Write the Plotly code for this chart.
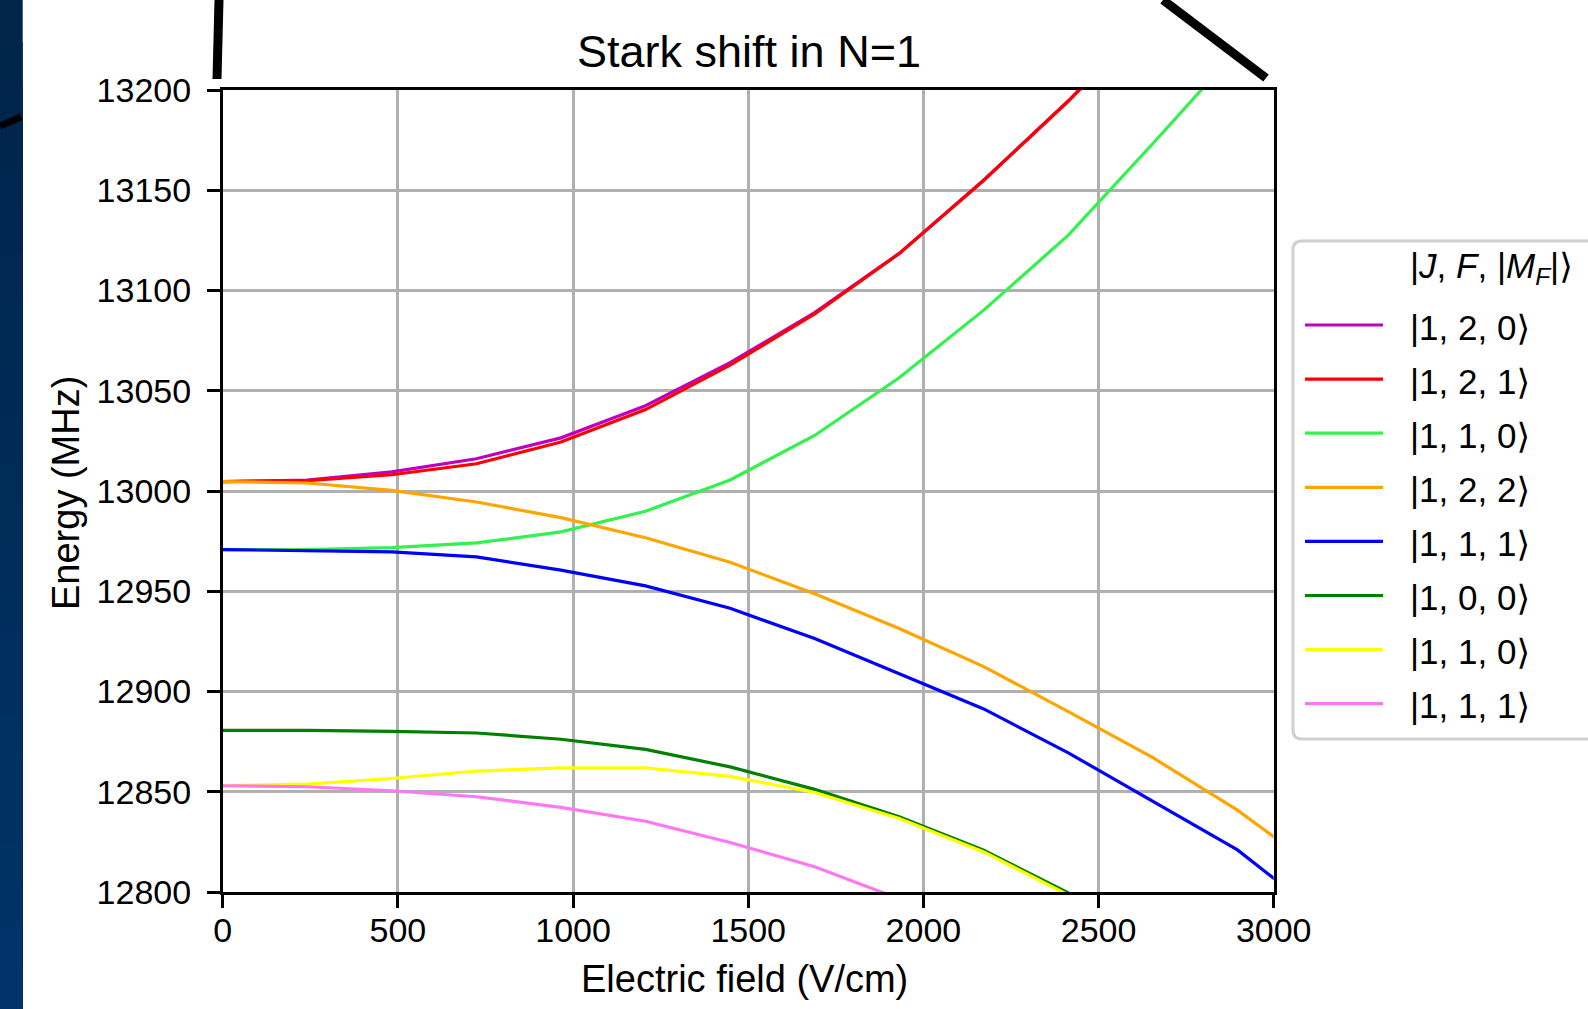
import plotly.graph_objects as go

# Figure size in pixels
W, H = 1588, 1009

# Electric field grid (V/cm)
field = [0, 241.4, 482.8, 724.1, 965.5, 1206.9, 1448.3, 1689.7,
         1931.0, 2172.4, 2413.8, 2655.2, 2896.6, 3137.9]

# Level energies (MHz) along the field grid, labelled |J, F, |M_F|>
e_120 = [13004.7, 13005.4, 13009.5, 13016.1, 13026.5, 13042.5, 13064.0,
         13089.0, 13118.5, 13155.0, 13194.5, 13238.0]
e_121 = [13004.7, 13005.2, 13008.1, 13013.6, 13024.4, 13040.6, 13062.8,
         13088.3, 13118.4, 13155.0, 13194.5, 13237.0]
e_110_up = [12970.8, 12970.8, 12971.8, 12974.1, 12979.6, 12989.9, 13005.5,
            13027.7, 13056.5, 13090.2, 13127.6, 13173.3, 13220.0]
e_122 = [13004.7, 13004.0, 13000.3, 12994.5, 12986.7, 12976.7, 12964.5,
         12948.7, 12931.4, 12912.4, 12890.0, 12867.0, 12840.8, 12810.0]
e_111_up = [12970.8, 12970.4, 12969.6, 12967.1, 12960.5, 12952.7, 12941.5,
            12926.4, 12909.0, 12891.3, 12869.4, 12845.3, 12821.0, 12788.0]
e_100 = [12880.6, 12880.6, 12880.1, 12879.3, 12876.2, 12871.1, 12862.4,
         12851.2, 12837.5, 12820.8, 12799.5, 12776.0]
e_110_low = [12853.0, 12853.8, 12856.6, 12860.3, 12861.9, 12861.9, 12857.7,
             12849.6, 12836.7, 12820.0, 12798.5, 12775.0]
e_111_low = [12853.0, 12852.5, 12850.5, 12847.5, 12842.2, 12835.3, 12824.7,
             12812.6, 12796.6]

labels = ["|1, 2, 0⟩", "|1, 2, 1⟩", "|1, 1, 0⟩", "|1, 2, 2⟩",
          "|1, 1, 1⟩", "|1, 0, 0⟩", "|1, 1, 0⟩", "|1, 1, 1⟩"]
legend_title = "|<i>J</i>, <i>F</i>, |<i>M</i><sub><i>F</i></sub>|⟩"
levels = [e_120, e_121, e_110_up, e_122, e_111_up, e_100, e_110_low, e_111_low]
colors = ["#bf00bf", "#ff0000", "#33f24d", "#ffa500",
          "#0000ff", "#008000", "#ffff00", "#ff77f2"]

x_ticks = [0, 500, 1000, 1500, 2000, 2500, 3000]
y_ticks = [12800, 12850, 12900, 12950, 13000, 13050, 13100, 13150, 13200]

FONT = "Liberation Sans, Arial, DejaVu Sans, sans-serif"

# Plot-area edges in pixels
ax_left, ax_right, ax_top, ax_bottom = 222.7, 1273.7, 90.0, 892.0


def px(x):
    return x / W


def py(y):
    return 1 - y / H


fig = go.Figure()
for name, vals, col in zip(labels, levels, colors):
    fig.add_trace(go.Scatter(
        x=field[:len(vals)], y=vals, mode="lines", name=name,
        showlegend=False,
        line=dict(color=col, width=3.2),
    ))

axis_common = dict(
    ticks="outside", ticklen=13, tickwidth=2.5, tickcolor="black",
    showline=True, linecolor="black", linewidth=2.5, mirror=True,
    showgrid=True, gridcolor="#b0b0b0", gridwidth=2.5, zeroline=False,
    automargin=False, tickformat="d",
    tickfont=dict(family=FONT, size=34, color="black"),
)

shapes = []

# Dark strip down the left edge; each band runs to the bottom so no seams show
n_bands = 24
top_rgb, bot_rgb = (0, 36, 74), (0, 52, 104)
for k in range(n_bands):
    t = k / (n_bands - 1)
    c = tuple(round(a + (b - a) * t) for a, b in zip(top_rgb, bot_rgb))
    shapes.append(dict(
        type="rect", xref="paper", yref="paper", layer="below",
        x0=0, x1=px(22.7), y0=0, y1=py(H * k / n_bands),
        line=dict(width=0), fillcolor=f"rgb{c}",
    ))

# Pen strokes above the axes
for (x0, y0, x1, y1, w) in [(219, 0, 217, 79, 9), (1163, 0, 1266, 78, 9),
                            (0, 126, 21, 117, 7)]:
    shapes.append(dict(type="line", xref="paper", yref="paper",
                       x0=px(x0), y0=py(y0), x1=px(x1), y1=py(y1),
                       line=dict(color="black", width=w)))

# Legend frame (rounded on the left, running past the right edge)
lx0, ly0, lx1, ly1, r = 1293, 241, 1610, 739, 9
frame = (f"M {px(lx0 + r)} {py(ly0)} L {px(lx1)} {py(ly0)} "
         f"L {px(lx1)} {py(ly1)} L {px(lx0 + r)} {py(ly1)} "
         f"Q {px(lx0)} {py(ly1)} {px(lx0)} {py(ly1 - r)} "
         f"L {px(lx0)} {py(ly0 + r)} "
         f"Q {px(lx0)} {py(ly0)} {px(lx0 + r)} {py(ly0)} Z")
shapes.append(dict(type="path", xref="paper", yref="paper", path=frame,
                   fillcolor="rgba(255,255,255,0.8)",
                   line=dict(color="#d0d0d0", width=3)))

annotations = [
    dict(text="Electric field (V/cm)", x=px(744), y=py(979),
         xref="paper", yref="paper", showarrow=False,
         xanchor="center", yanchor="middle",
         font=dict(family=FONT, size=38, color="black")),
    dict(text="Energy (MHz)", x=px(66), y=py(493), textangle=-90,
         xref="paper", yref="paper", showarrow=False,
         xanchor="center", yanchor="middle",
         font=dict(family=FONT, size=38, color="black")),
    dict(text=legend_title, x=px(1408), y=py(268),
         xref="paper", yref="paper", showarrow=False,
         xanchor="left", yanchor="middle",
         font=dict(family=FONT, size=35, color="black")),
]

# Legend rows: sample line plus label for each level
row0, row_step = 325, 54.1
for i, (name, col) in enumerate(zip(labels, colors)):
    yrow = row0 + i * row_step
    shapes.append(dict(type="line", xref="paper", yref="paper",
                       x0=px(1305), x1=px(1383), y0=py(yrow), y1=py(yrow),
                       line=dict(color=col, width=3.2)))
    annotations.append(dict(text=name, x=px(1408), y=py(yrow + 2),
                            xref="paper", yref="paper", showarrow=False,
                            xanchor="left", yanchor="middle",
                            font=dict(family=FONT, size=35, color="black")))

fig.update_layout(
    width=W, height=H,
    margin=dict(l=0, r=0, t=0, b=0),
    paper_bgcolor="white", plot_bgcolor="white",
    font=dict(family=FONT, size=34, color="black"),
    xaxis=dict(domain=[px(ax_left), px(ax_right)], range=[0, 3000],
               tickvals=x_ticks, ticklabelstandoff=-7, **axis_common),
    yaxis=dict(domain=[py(ax_bottom), py(ax_top)], range=[12800, 13200],
               tickvals=y_ticks, ticklabelstandoff=9, **axis_common),
    title=dict(text="Stark shift in N=1", x=px(749), xref="paper",
               xanchor="center", y=py(51), yref="paper", yanchor="middle",
               font=dict(family=FONT, size=45, color="black")),
    annotations=annotations,
    shapes=shapes,
    showlegend=False,
)

fig.write_html("out.html")
